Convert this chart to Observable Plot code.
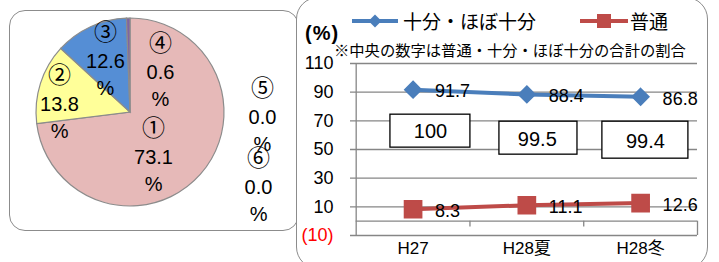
<!DOCTYPE html>
<html><head><meta charset="utf-8">
<script src="https://cdn.jsdelivr.net/npm/d3@7"></script>
<script src="https://cdn.jsdelivr.net/npm/@observablehq/plot@0.6"></script>
<style>
body{margin:0;background:#fff;font-family:"Liberation Sans","Noto Sans CJK JP",sans-serif;}
#root{position:relative;width:719px;height:262px;overflow:hidden;background:#fff;}
.panel{position:absolute;border:1.5px solid #8c8c8c;box-sizing:border-box;background:#fff;}
.abs{position:absolute;}
.lg{position:absolute;font-family:"Noto Sans CJK JP",sans-serif;font-size:19px;line-height:1;white-space:nowrap;color:#000;}
</style></head><body>
<div id="root">
  <div class="panel" style="left:9px;top:10px;width:290px;height:221px;border-radius:16px;"></div>
  <div id="pie" class="abs" style="left:0;top:0;"></div>
  <div class="panel" style="left:296px;top:-3px;width:412px;height:272px;border-radius:22px;"></div>
  <div id="line" class="abs" style="left:296px;top:0;"></div>
  <div id="legend"></div>
</div>
<script>
// ---- data ----
const pieIds = ["①","②","③","④","⑤","⑥"];
const pieValues = [73.1, 13.8, 12.6, 0.6, 0.0, 0.0];
const pieColors = ["#E6B9B8","#FFFF99","#558ED5","#8064A2","#4BACC6","#F79646"];
const categories = ["H27","H28夏","H28冬"];
const sufficient = [91.7, 88.4, 86.8];
const normal = [8.3, 11.1, 12.6];
const totals = [100, 99.5, 99.4];
const yTicks = [-10, 10, 30, 50, 70, 90, 110];
const seriesNames = ["十分・ほぼ十分","普通"];
const seriesColors = ["#4A7EBB","#BE4B48"];

// ---- layout (label placement) ----
const pieLabelPos = [[0.245,-0.479],[-0.755,0.085],[-0.266,0.543],[0.319,0.426],[1.404,-0.053],[1.362,-0.798]];
const boxLayout = [
  {x1:0.301,x2:1.004,y1:51.3,y2:74.3,tx:0.653,ty:62.4},
  {x1:1.259,x2:1.945,y1:46.4,y2:69.4,tx:1.592,ty:56.9},
  {x1:2.164,x2:2.920,y1:43.6,y2:69.4,tx:2.542,ty:55.5}
];
const FONT = '"Liberation Sans","Noto Sans CJK JP",sans-serif';

// ---- pie ----
const pidx = pieValues.map((d,i)=>i);
function pieRender(index, scales) {
  const cx = scales.x(0), cy = scales.y(0), r = scales.x(1) - scales.x(0);
  const arcs = d3.pie().sort(null).value(i => pieValues[i])(pidx);
  const g = d3.create("svg:g").attr("transform", `translate(${cx},${cy})`);
  const arc = d3.arc().innerRadius(0).outerRadius(r);
  g.selectAll("path").data(arcs.filter(a => a.value > 0)).join("path")
    .attr("d", arc).attr("fill", a => pieColors[a.data])
    .attr("stroke", "#8c8c8c").attr("stroke-width", 1.2);
  return g.node();
}
const pie = Plot.plot({
  width: 296, height: 262,
  marginLeft: 36, marginRight: 72, marginTop: 18, marginBottom: 56,
  x: {domain: [-1, 1], axis: null},
  y: {domain: [-1, 1], axis: null},
  style: {fontFamily: FONT, fontSize: "20px", background: "transparent", color: "#000", overflow: "visible"},
  marks: [
    pieRender,
    Plot.text(pidx, {x: i => pieLabelPos[i][0], y: i => pieLabelPos[i][1], text: i => pieIds[i], dy: -29,
      fontSize: 23, fontFamily: '"Noto Sans CJK JP",sans-serif', fill: "#000"}),
    Plot.text(pidx, {x: i => pieLabelPos[i][0], y: i => pieLabelPos[i][1], text: i => pieValues[i].toFixed(1), fontSize: 20, fill: "#000"}),
    Plot.text(pidx, {x: i => pieLabelPos[i][0], y: i => pieLabelPos[i][1], text: i => "%", dy: 27, fontSize: 20, fill: "#000"})
  ]
});
document.getElementById("pie").append(pie);

// ---- line chart ----
const idx = categories.map((c,i)=>i);
const xc = i => i + 0.5;
const gridStyle = {stroke: "#868686", strokeWidth: 1.3};
const line = Plot.plot({
  width: 423, height: 262,
  marginLeft: 54, marginRight: 22, marginTop: 63, marginBottom: 27,
  x: {domain: [-0.05, 3], axis: null},
  y: {domain: [-10, 110], axis: null},
  style: {fontFamily: FONT, fontSize: "17px", background: "transparent", color: "#000", overflow: "visible"},
  marks: [
    Plot.ruleY(yTicks, gridStyle),
    Plot.ruleX([0], {y1: -10, y2: 110, ...gridStyle}),
    Plot.ruleY([0], {x1: 0, x2: 3, ...gridStyle}),
    Plot.ruleX([1, 2], {y1: 0, y2: -4, ...gridStyle}),
    Plot.ruleX([3], {y1: 0, y2: -10, ...gridStyle}),
    Plot.text(yTicks.filter(d => d >= 0), {x: -0.05, y: d => d, text: d => String(d), textAnchor: "end", dx: -17, fontSize: 18, fill: "#000"}),
    Plot.text(yTicks.filter(d => d < 0), {x: -0.05, y: d => d, text: d => `(${-d})`, textAnchor: "end", dx: -17, fontSize: 18, fill: "#FF0000"}),
    Plot.text(idx, {x: xc, y: -10, text: i => categories[i], dy: 13, fontSize: 17, fill: "#000"}),
    Plot.rect(idx, {x1: i => boxLayout[i].x1, x2: i => boxLayout[i].x2, y1: i => boxLayout[i].y1, y2: i => boxLayout[i].y2,
      fill: "#fff", stroke: "#000", strokeWidth: 1.3}),
    Plot.text(idx, {x: i => boxLayout[i].tx, y: i => boxLayout[i].ty, text: i => String(totals[i]), fontSize: 20, fill: "#000"}),
    Plot.line(idx, {x: xc, y: i => sufficient[i], stroke: seriesColors[0], strokeWidth: 4}),
    Plot.dot(idx, {x: xc, y: i => sufficient[i], symbol: "diamond2", r: 7.5, fill: seriesColors[0], stroke: seriesColors[0]}),
    Plot.line(idx, {x: xc, y: i => normal[i], stroke: seriesColors[1], strokeWidth: 4}),
    Plot.dot(idx, {x: xc, y: i => normal[i], symbol: "square", r: 9.7, fill: seriesColors[1], stroke: seriesColors[1]}),
    Plot.text(idx, {x: xc, y: i => sufficient[i], text: i => sufficient[i].toFixed(1), textAnchor: "start", dx: 22, dy: 2, fontSize: 18, fill: "#000"}),
    Plot.text(idx, {x: xc, y: i => normal[i], text: i => normal[i].toFixed(1), textAnchor: "start", dx: 22, dy: 2, fontSize: 18, fill: "#000"})
  ]
});
document.getElementById("line").append(line);

// ---- legend & notes ----
const lg = document.getElementById("legend");
lg.innerHTML = `
<svg class="abs" style="left:350px;top:10px" width="50" height="22">
  <line x1="2" x2="48" y1="11" y2="11" stroke="${seriesColors[0]}" stroke-width="4"/>
  <path d="M25,4.5 L31.5,11 L25,17.5 L18.5,11 Z" fill="${seriesColors[0]}"/>
</svg>
<div class="lg" style="left:403px;top:11px;">${seriesNames[0]}</div>
<svg class="abs" style="left:578px;top:10px" width="52" height="22">
  <line x1="2" x2="50" y1="11" y2="11" stroke="${seriesColors[1]}" stroke-width="4"/>
  <rect x="19" y="4" width="14" height="14" fill="${seriesColors[1]}"/>
</svg>
<div class="lg" style="left:630px;top:11px;">${seriesNames[1]}</div>
<div class="lg" style="left:305px;top:23px;font-family:'Liberation Sans',sans-serif;font-size:20px;font-weight:bold;letter-spacing:1px;">(%)</div>
<div class="lg" style="left:334px;top:42px;font-size:15.3px;">※中央の数字は普通・十分・ほぼ十分の合計の割合</div>
`;
</script>
</body></html>
